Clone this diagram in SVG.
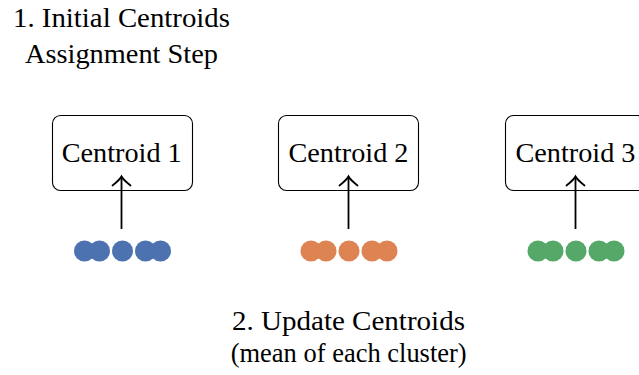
<svg xmlns="http://www.w3.org/2000/svg" width="639" height="375" viewBox="0 0 639 375">
<style>
text{font-family:'Liberation Serif','Times New Roman',serif;font-size:27px;fill:#000;text-anchor:middle}
.box{fill:#fff;stroke:#000;stroke-width:1.1}
.conn{stroke:#000;stroke-width:1.8;fill:none;marker-end:url(#to)}
.b{fill:#4C72B0}.o{fill:#DD8452}.g{fill:#55A868}
</style>
<defs>
<marker id="to" markerUnits="userSpaceOnUse" markerWidth="24" markerHeight="24" viewBox="-12 -12 24 24" refX="0" refY="0" orient="auto" overflow="visible">
<path d="M -9 -9 Q -3 -1.5 0 0 Q -3 1.5 -9 9" fill="none" stroke="#000" stroke-width="1.8" stroke-linecap="round"/>
</marker>
</defs>
<rect width="639" height="375" fill="#fff"/>
<g id="title1">
<text x="121.5" y="27" textLength="217" lengthAdjust="spacingAndGlyphs">1. Initial Centroids</text>
<text x="121.5" y="63" textLength="193" lengthAdjust="spacingAndGlyphs">Assignment Step</text>
</g>
<g id="centroid1">
<rect class="box" x="52.5" y="115.5" width="140" height="75" rx="8"/>
<text x="121.7" y="162" textLength="120" lengthAdjust="spacingAndGlyphs">Centroid 1</text>
</g>
<g id="centroid2">
<rect class="box" x="278.5" y="115.5" width="140" height="75" rx="8"/>
<text x="348.5" y="162" textLength="120" lengthAdjust="spacingAndGlyphs">Centroid 2</text>
</g>
<g id="centroid3">
<rect class="box" x="505.5" y="115.5" width="140" height="75" rx="8"/>
<text x="575.5" y="162" textLength="120" lengthAdjust="spacingAndGlyphs">Centroid 3</text>
</g>
<g id="cluster1">
<circle class="b" cx="84.5" cy="251" r="10.5"/><circle class="b" cx="99.5" cy="251" r="10.5"/><circle class="b" cx="122.5" cy="251" r="10.5"/><circle class="b" cx="145.5" cy="251" r="10.5"/><circle class="b" cx="160.5" cy="251" r="10.5"/>
</g>
<g id="cluster2">
<circle class="o" cx="311" cy="251" r="10.5"/><circle class="o" cx="326" cy="251" r="10.5"/><circle class="o" cx="349" cy="251" r="10.5"/><circle class="o" cx="372" cy="251" r="10.5"/><circle class="o" cx="387" cy="251" r="10.5"/>
</g>
<g id="cluster3">
<circle class="g" cx="538" cy="251" r="10.5"/><circle class="g" cx="553" cy="251" r="10.5"/><circle class="g" cx="576" cy="251" r="10.5"/><circle class="g" cx="599" cy="251" r="10.5"/><circle class="g" cx="614" cy="251" r="10.5"/>
</g>
<g id="connectors">
<line class="conn" x1="121.5" y1="229" x2="121.5" y2="176.5"/>
<line class="conn" x1="348.5" y1="229" x2="348.5" y2="176.5"/>
<line class="conn" x1="575.5" y1="229" x2="575.5" y2="176.5"/>
</g>
<g id="title2">
<text x="348.5" y="330" textLength="233" lengthAdjust="spacingAndGlyphs">2. Update Centroids</text>
<text x="348.7" y="362" textLength="236" lengthAdjust="spacingAndGlyphs">(mean of each cluster)</text>
</g>
</svg>
